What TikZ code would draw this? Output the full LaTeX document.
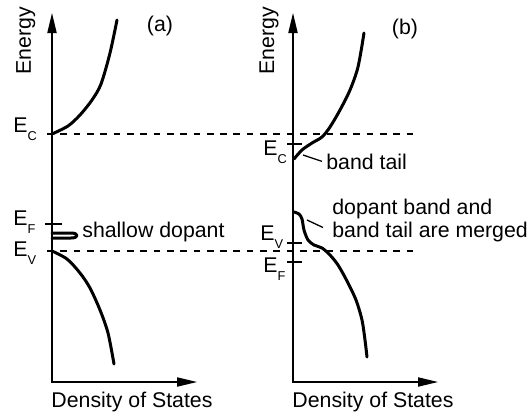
\documentclass[tikz,border=0pt]{standalone}
\usepackage{fontspec}
\setmainfont{Liberation Sans}
\usetikzlibrary{arrows.meta,calc}
% level name with a lowered small index
\newcommand{\lvl}[1]{E\raisebox{-0.4em}{\fontsize{6.4}{7}\selectfont #1}}

\begin{document}
\begin{tikzpicture}[x=0.5pt, y=-0.5pt,
    font=\fontsize{10.65}{12.8}\selectfont,
    axis/.style={line width=0.7pt,
                 {Triangle[length=10pt,width=4.6pt]}-{Triangle[length=10pt,width=4.6pt]}},
    band/.style={line width=1.5pt, line join=round, line cap=round},
    level/.style={line width=0.65pt, dash pattern=on 3.33pt off 3.33pt},
    tickmark/.style={line width=0.65pt},
    lead/.style={line width=0.65pt},
    lbl/.style={inner sep=0pt, anchor=base west},
    txt/.style={inner sep=0pt}
  ]
  \useasboundingbox (0,0) rectangle (531,414);

  % axes
  \coordinate (Ya) at (52,13);
  \coordinate (Oa) at (52,382);
  \coordinate (Xa) at (197,382);
  \coordinate (Yb) at (293,13);
  \coordinate (Ob) at (293,382);
  \coordinate (Xb) at (438,382);
  \draw[axis] (Ya) -- (Oa) -- (Xa);
  \draw[axis] (Yb) -- (Ob) -- (Xb);

  \node[txt, rotate=90, anchor=base] (ena) at (31,41) {Energy};
  \node[txt, rotate=90, anchor=base] (enb) at (274,41) {Energy};
  \node[txt] (pa) at (160,26) {(a)};
  \node[txt] (pb) at (405,29) {(b)};
  \node[txt, anchor=base] (dosa) at (132,407) {Density of States};
  \node[txt, anchor=base] (dosb) at (373,407) {Density of States};

  % band edges of (a)
  \draw[level] (47,134) -- (417,134);
  \draw[level] (47,251) -- (417,251);

  % (a) undoped-like bands
  \draw[band] plot[smooth, tension=0.5] coordinates {(52,134) (68,126) (80,115)
      (92,100) (101,84) (110,53) (117,20)};
  \draw[band] plot[smooth, tension=0.5] coordinates {(52,251) (67,259) (80,273)
      (90,288) (100,310) (108,333) (114,364)};
  \draw[band] (52,233) -- (71,233) .. controls (79,233) and (79,238) .. (71,238) -- (52,238);

  \node[lbl] (eca) at (13,132) {\lvl{C}};
  \node[lbl] (efa) at (13,225) {\lvl{F}};
  \node[lbl] (eva) at (13,256) {\lvl{V}};
  \draw[tickmark] (45,224) -- (62,224);
  \node[lbl] (shal) at (82,237) {shallow dopant};

  % (b) bands with tails
  \draw[band] plot[smooth, tension=0.5] coordinates {(294,159) (302,150) (312,143)
      (322,137) (330,127) (340,110) (350,90) (358,67) (364,33)};
  \draw[band] plot[smooth, tension=0.5] coordinates {(294,212) (299,214) (302,219)
      (304,230) (308,240) (314,245) (322,248) (330,255) (338,265) (347,281)
      (356,300) (362,320) (365,340) (367,357)};

  \draw[tickmark] (287,144) -- (302,144);
  \draw[tickmark] (287,243) -- (302,243);
  \draw[tickmark] (287,262) -- (302,262);
  \node[lbl] (ecb) at (263,155) {\lvl{C}};
  \node[lbl] (evb) at (260,240) {\lvl{V}};
  \node[lbl] (efb) at (263,272) {\lvl{F}};

  \node[lbl] (tail) at (326,169) {band tail};
  \coordinate (tailA) at (303,155);
  \draw[lead] (tailA) -- ($(tail.west)+(-4,0)$);

  \node[lbl] (mrg1) at (332,214) {dopant band and};
  \node[lbl] (mrg2) at (332,237) {band tail are merged};
  \coordinate (dopA) at (307,220);
  \draw[lead] (dopA) -- ($(mrg2.west)+(-9,-4)$);
\end{tikzpicture}
\end{document}
